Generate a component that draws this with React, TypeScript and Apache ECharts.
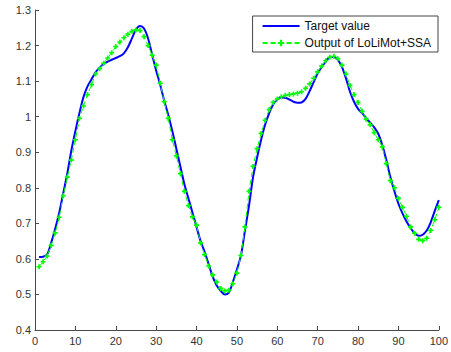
import React, { useEffect, useRef } from "react";
import * as echarts from "echarts";

const xValues: number[] = Array.from({ length: 100 }, (_, i) => i + 1);

const targetValues: number[] = [
  0.605, 0.606, 0.612, 0.645, 0.685, 0.73, 0.785, 0.84, 0.905, 0.96,
  1.01, 1.055, 1.085, 1.105, 1.125, 1.138, 1.148, 1.155, 1.16, 1.165,
  1.17, 1.178, 1.195, 1.22, 1.245, 1.255, 1.248, 1.22, 1.175, 1.13,
  1.09, 1.045, 1.005, 0.96, 0.91, 0.86, 0.81, 0.77, 0.73, 0.69,
  0.65, 0.62, 0.585, 0.55, 0.525, 0.51, 0.5, 0.505, 0.535, 0.57,
  0.61, 0.68, 0.75, 0.83, 0.885, 0.935, 0.978, 1.01, 1.035, 1.048,
  1.054, 1.053, 1.048, 1.042, 1.039, 1.04, 1.05, 1.072, 1.097, 1.122,
  1.14, 1.155, 1.167, 1.168, 1.16, 1.14, 1.108, 1.07, 1.042, 1.022,
  1.01, 0.996, 0.983, 0.97, 0.952, 0.92, 0.878, 0.83, 0.79, 0.755,
  0.728, 0.705, 0.687, 0.672, 0.665, 0.668, 0.68, 0.703, 0.735, 0.765,
];

const outputValues: number[] = [
  0.578, 0.592, 0.608, 0.638, 0.673, 0.717, 0.778, 0.83, 0.878, 0.935,
  0.995, 1.03, 1.062, 1.09, 1.12, 1.135, 1.15, 1.165, 1.18, 1.197,
  1.21, 1.222, 1.232, 1.24, 1.244, 1.242, 1.225, 1.2, 1.173, 1.145,
  1.094, 1.042, 0.995, 0.935, 0.89, 0.84, 0.79, 0.75, 0.718, 0.695,
  0.645, 0.612, 0.58, 0.555, 0.535, 0.517, 0.51, 0.512, 0.53, 0.56,
  0.61, 0.69, 0.79, 0.86, 0.91, 0.953, 0.99, 1.02, 1.04, 1.05,
  1.056, 1.06, 1.062, 1.064, 1.066, 1.07, 1.08, 1.092, 1.108, 1.126,
  1.143, 1.158, 1.167, 1.17, 1.163, 1.145, 1.12, 1.088, 1.062, 1.04,
  1.015, 0.993, 0.977, 0.955, 0.935, 0.915, 0.868, 0.82, 0.8, 0.77,
  0.745, 0.72, 0.69, 0.672, 0.655, 0.651, 0.658, 0.68, 0.71, 0.745,
];

const seriesNames: string[] = ["Target value", "Output of LoLiMot+SSA"];

const FONT = "'Liberation Sans', Arial, sans-serif";
const AXIS_COLOR = "#4a4a4a";

export default function App() {
  const ref = useRef<HTMLDivElement>(null);

  useEffect(() => {
    if (!ref.current) return;
    const chart = echarts.init(ref.current, null, { renderer: "svg" });
    const axisCommon = {
      axisLine: { show: true, lineStyle: { color: AXIS_COLOR, width: 1 } },
      axisTick: { show: true, inside: true, length: 4, lineStyle: { color: AXIS_COLOR } },
      splitLine: { show: false },
      axisLabel: { color: "#333", fontFamily: FONT, fontSize: 11 },
    };
    chart.setOption({
      animation: false,
      backgroundColor: "#fff",
      grid: { left: 35, right: 8, top: 10, bottom: 22, containLabel: false },
      xAxis: {
        type: "value",
        min: 0,
        max: 100,
        interval: 10,
        ...axisCommon,
        axisLabel: { ...axisCommon.axisLabel, margin: 5 },
      },
      yAxis: {
        type: "value",
        min: 0.4,
        max: 1.3,
        interval: 0.1,
        ...axisCommon,
        axisLabel: { ...axisCommon.axisLabel, margin: 4 },
      },
      legend: {
        orient: "vertical",
        right: 13,
        top: 16,
        backgroundColor: "#fff",
        borderColor: "#444",
        borderWidth: 1,
        borderRadius: 0,
        padding: [4, 7, 3, 9],
        itemWidth: 37,
        itemHeight: 8,
        itemGap: 5,
        symbolKeepAspect: true,
        textStyle: { fontFamily: FONT, fontSize: 12, color: "#111" },
        data: [
          { name: seriesNames[0], icon: "path://M0,0H37V2H0Z", itemStyle: { color: "#0000ff" } },
          { name: seriesNames[1] },
        ],
      },
      series: [
        {
          name: seriesNames[0],
          type: "line",
          data: xValues.map((x, i) => [x, targetValues[i]]),
          smooth: 0.3,
          showSymbol: false,
          symbol: "none",
          lineStyle: { color: "#0000ff", width: 2 },
          itemStyle: { color: "#0000ff" },
          z: 2,
        },
        {
          name: seriesNames[1],
          type: "line",
          data: xValues.map((x, i) => [x, outputValues[i]]),
          symbol: "path://M2,0H4V2H6V4H4V6H2V4H0V2H2Z",
          symbolSize: 5,
          showSymbol: true,
          lineStyle: { color: "#00ff00", width: 1, type: [5, 3] },
          itemStyle: { color: "#00ff00" },
          z: 3,
        },
      ],
    });
    return () => chart.dispose();
  }, []);

  return <div ref={ref} style={{ width: 451, height: 352, position: "fixed", left: 0, top: 0 }} />;
}
